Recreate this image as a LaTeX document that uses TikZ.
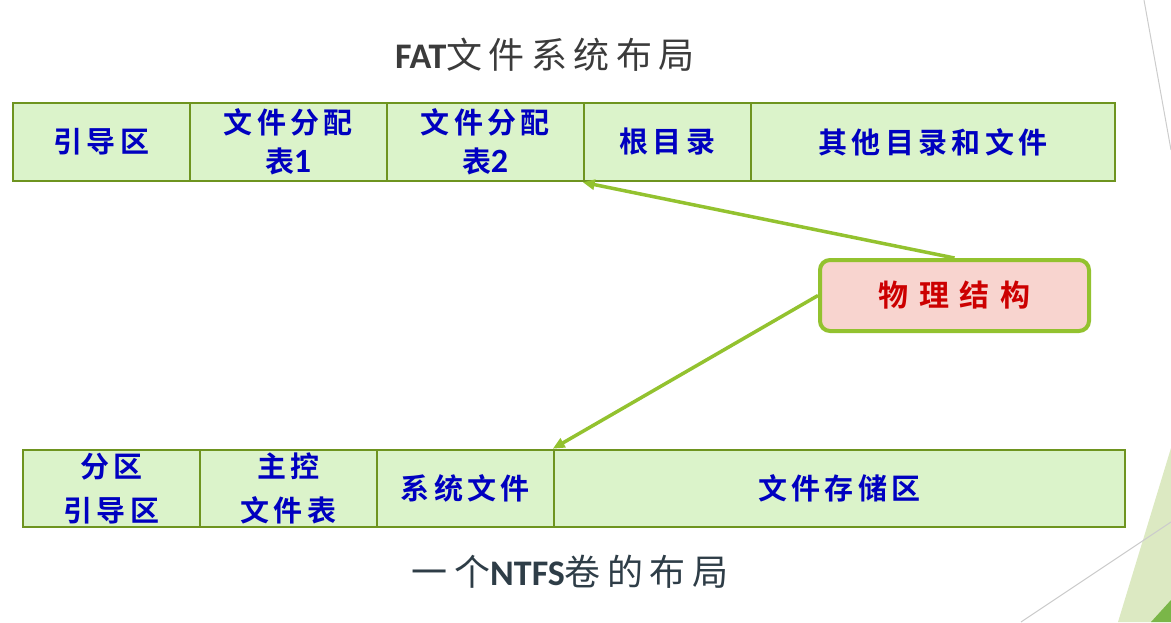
\documentclass[tikz,border=0pt]{standalone}
\usepackage{fontspec}
\usetikzlibrary{arrows.meta}
\newfontfamily\cjk[LetterSpace=18]{Noto Sans CJK SC}
\newfontfamily\cjkb[LetterSpace=15]{Noto Sans CJK SC Bold}
\newfontfamily\cjkbw[LetterSpace=36]{Noto Sans CJK SC Bold}
\newfontfamily\lat{Carlito}
\definecolor{boxfill}{HTML}{DBF3CA}
\definecolor{boxline}{HTML}{6E941F}
\definecolor{boxtext}{HTML}{0000C0}
\definecolor{pinkfill}{HTML}{F8D4CF}
\definecolor{pinkline}{HTML}{93C22F}
\definecolor{redtext}{HTML}{CC0000}
\definecolor{titleA}{HTML}{3B3B3B}
\definecolor{titleB}{HTML}{2E3D47}
\definecolor{deco}{HTML}{DCE9C2}
\definecolor{decodark}{HTML}{7AB648}
\definecolor{decoline}{HTML}{CCCCCC}
\newcommand\digitb[1]{{\lat\bfseries\fontsize{34}{39}\selectfont #1}}
\tikzset{
  cell/.style={draw=boxline, fill=boxfill, line width=2.5pt, inner sep=0pt,
    text=boxtext, align=center, font={\cjkb\fontsize{29}{39}\selectfont}},
  topcell/.style={cell, minimum height=78pt},
  botcell/.style={cell, minimum height=77pt, font={\cjkb\fontsize{29}{44}\selectfont}},
  phys/.style={draw=pinkline, fill=pinkfill, line width=4pt, rounded corners=10pt,
    minimum width=269pt, minimum height=71pt, inner sep=0pt, text=redtext,
    font={\cjkbw\fontsize{30}{34}\selectfont}},
  arr/.style={draw=pinkline, line width=3.5pt, -{Triangle[length=12pt,width=10pt]}},
  ttl/.style={inner sep=0pt, font={\fontsize{36}{40}\selectfont}}
}
\begin{document}
\begin{tikzpicture}[x=1pt,y=-1pt]
\useasboundingbox (0,0) rectangle (1171,622);
% decoration at right edge
\fill[deco] (1118,622) -- (1171,448) -- (1171,622) -- cycle;
\fill[decodark] (1151,622) -- (1171,600) -- (1171,622) -- cycle;
\draw[decoline, line width=1pt] (1144,0) -- (1171,150);
\draw[decoline, line width=1pt] (1021,622) -- (1171,522);
% titles
\node[ttl, text=titleA] (title1) at (545,55) {{\lat\bfseries FAT}\cjk 文件系统布局};
\node[ttl, text=titleB] (title2) at (570,572) {{\cjk 一个}{\lat\bfseries NTFS}{\cjk 卷的布局}};
% FAT row
\node[topcell, minimum width=177pt] (t1) at (101.5,142) {引导区};
\node[topcell, minimum width=197pt] (t2) at (288.5,142) {文件分配\\表\kern-1pt\digitb{1}};
\node[topcell, minimum width=197pt] (t3) at (485.5,142) {文件分配\\表\kern-1pt\digitb{2}};
\node[topcell, minimum width=167pt] (t4) at (667.5,142) {根目录};
\node[topcell, minimum width=364pt] (t5) at (933,142) {其他目录和文件};
% NTFS row
\node[botcell, minimum width=177pt] (b1) at (111.5,488.5) {分区\\引导区};
\node[botcell, minimum width=177pt] (b2) at (288.5,488.5) {主控\\文件表};
\node[botcell, minimum width=177pt] (b3) at (465.5,488.5) {系统文件};
\node[botcell, minimum width=571pt] (b4) at (839.5,488.5) {文件存储区};
% physical structure
\node[phys] (p) at (954.5,295.5) {物理结构};
\draw[arr] (p.north) -- (t4.south west);
\draw[arr] (p.west) -- (b4.north west);
\end{tikzpicture}
\end{document}
